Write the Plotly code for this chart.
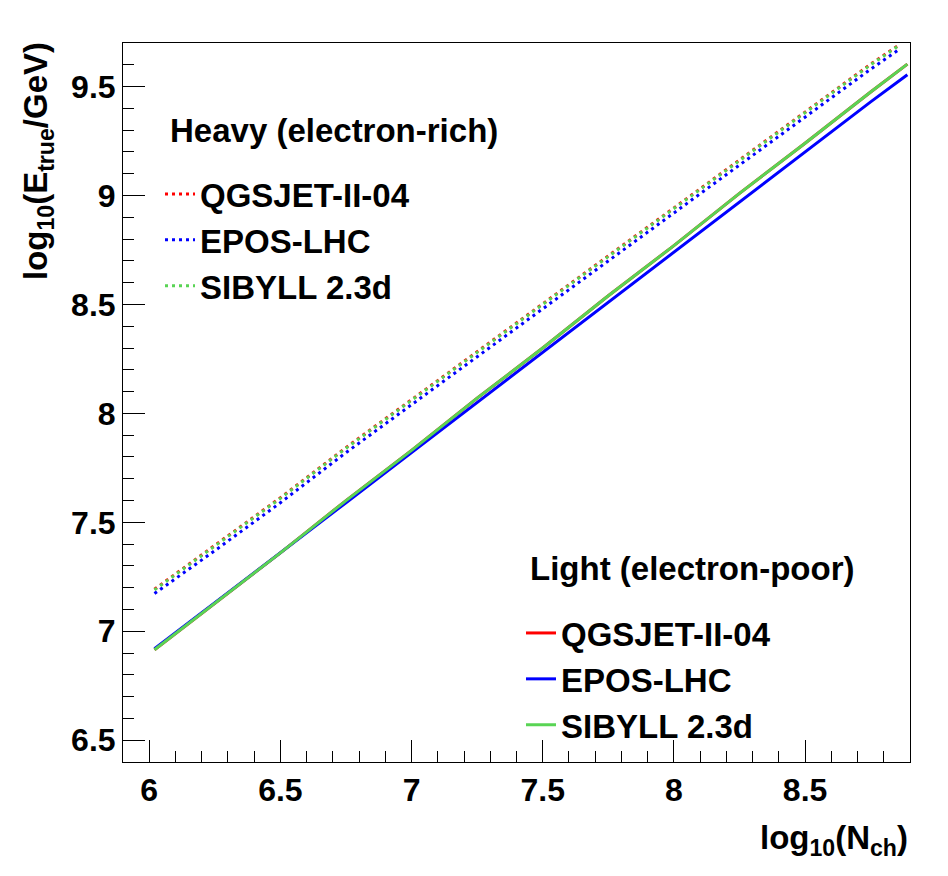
import plotly.graph_objects as go

# ---- data ----
models = ["QGSJET-II-04", "EPOS-LHC", "SIBYLL 2.3d"]
colors = ["#ff0000", "#0000ff", "#59d454"]

x_light = [6.02, 6.25, 6.5, 6.75, 7.0, 7.25, 7.5, 7.75, 8.0, 8.25, 8.5, 8.75, 8.89]
light_qgsjet = [6.915, 7.13, 7.36, 7.60, 7.83, 8.07, 8.30, 8.54, 8.77, 9.01, 9.24, 9.475, 9.603]
light_epos = [6.92, 7.13, 7.36, 7.59, 7.82, 8.05, 8.28, 8.51, 8.74, 8.97, 9.20, 9.43, 9.554]
light_sibyll = [6.915, 7.13, 7.36, 7.60, 7.83, 8.07, 8.30, 8.54, 8.77, 9.01, 9.24, 9.475, 9.603]

x_heavy = [6.02, 6.25, 6.5, 6.75, 7.0, 7.25, 7.5, 7.75, 8.0, 8.25, 8.5, 8.75, 8.86]
heavy_qgsjet = [7.193, 7.393, 7.613, 7.843, 8.063, 8.283, 8.503, 8.723, 8.943, 9.163, 9.383, 9.603, 9.693]
heavy_epos = [7.173, 7.37, 7.59, 7.82, 8.04, 8.26, 8.48, 8.70, 8.92, 9.14, 9.36, 9.58, 9.672]
heavy_sibyll = [7.19, 7.39, 7.61, 7.84, 8.06, 8.28, 8.50, 8.72, 8.94, 9.16, 9.38, 9.60, 9.69]

light_sets = [light_qgsjet, light_epos, light_sibyll]
heavy_sets = [heavy_qgsjet, heavy_epos, heavy_sibyll]

x_range = [5.9, 8.9]
y_range = [6.4, 9.7]
x_ticks = [6, 6.5, 7, 7.5, 8, 8.5]
x_ticklabels = ["6", "6.5", "7", "7.5", "8", "8.5"]
y_ticks = [6.5, 7, 7.5, 8, 8.5, 9, 9.5]
y_ticklabels = ["6.5", "7", "7.5", "8", "8.5", "9", "9.5"]

FONT = "Liberation Sans"

fig = go.Figure()

for name, col, ys in zip(models, colors, heavy_sets):
    fig.add_trace(go.Scatter(
        x=x_heavy, y=ys, mode="lines", name=name,
        line=dict(color=col, width=3, dash="3px,4px"),
        legend="legend",
    ))

for name, col, ys in zip(models, colors, light_sets):
    fig.add_trace(go.Scatter(
        x=x_light, y=ys, mode="lines", name=name,
        line=dict(color=col, width=3),
        legend="legend2",
    ))

W, H = 948, 876
BODY = 8  # default page margin of the html body
# absolute plot-area edges in the screenshot
PL, PR, PT, PB = 123, 910, 43, 762
pw, ph = PR - PL, PB - PT
ml, mt = PL - BODY, PT - BODY
mr, mb = W - ml - pw, H - mt - ph


def px(xp):
    return (xp - PL) / pw


def py(yp):
    return (PB - yp) / ph


axis_common = dict(
    showgrid=False, zeroline=False,
    showline=True, linecolor="black", linewidth=1, mirror=True,
    ticks="inside", ticklen=22, tickwidth=1, tickcolor="black",
    tickfont=dict(family=FONT, size=32, color="black", weight="bold"),
)

fig.update_xaxes(
    range=x_range, tickmode="array", tickvals=x_ticks, ticktext=x_ticklabels,
    minor=dict(ticks="inside", ticklen=11, tickwidth=1, tickcolor="black", dtick=0.1, tick0=6),
    **axis_common,
)
fig.update_yaxes(
    range=y_range, tickmode="array", tickvals=y_ticks, ticktext=y_ticklabels,
    minor=dict(ticks="inside", ticklen=11, tickwidth=1, tickcolor="black", dtick=0.1, tick0=6.5),
    **axis_common,
)

legend_common = dict(
    font=dict(family=FONT, size=33, color="black", weight="bold"),
    bgcolor="rgba(0,0,0,0)", borderwidth=0,
    xanchor="left", yanchor="top", itemwidth=30,
    tracegroupgap=0,
)

TXT = dict(family=FONT, size=33, color="black", weight="bold")

fig.update_layout(
    width=W, height=H,
    margin=dict(l=ml, r=mr, t=mt, b=mb),
    paper_bgcolor="white", plot_bgcolor="white",
    font=dict(family=FONT, color="black", weight="bold"),
    showlegend=True,
    legend=dict(x=px(160), y=py(166), **legend_common),
    legend2=dict(x=px(521), y=py(605), **legend_common),
    annotations=[
        dict(text="Heavy (electron-rich)", xref="paper", yref="paper",
             x=px(168), y=py(131), xanchor="left", yanchor="middle", showarrow=False,
             font=TXT),
        dict(text="Light (electron-poor)", xref="paper", yref="paper",
             x=px(528), y=py(568), xanchor="left", yanchor="middle", showarrow=False,
             font=TXT),
        dict(text="log<sub>10</sub>(E<sub>true</sub>/GeV)", xref="paper", yref="paper",
             x=px(38), y=py(40), xanchor="center", yanchor="top", textangle=-90,
             showarrow=False,
             font=dict(family=FONT, size=33, color="black", weight="bold")),
        dict(text="log<sub>10</sub>(N<sub>ch</sub>)", xref="paper", yref="paper",
             x=px(910), y=py(840), xanchor="right", yanchor="middle", showarrow=False,
             font=dict(family=FONT, size=33, color="black", weight="bold")),
    ],
)

fig.write_html("out.html")
